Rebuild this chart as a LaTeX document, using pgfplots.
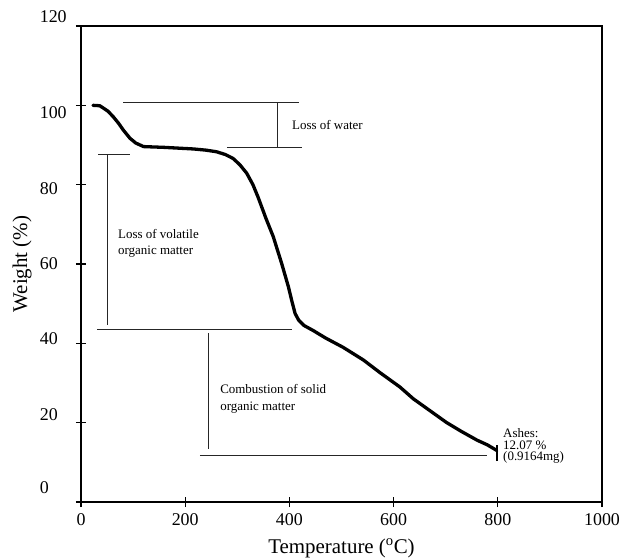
\documentclass[border=0pt]{standalone}
\usepackage{fontspec}
\setmainfont{Liberation Serif}
\usepackage{pgfplots}
\pgfplotsset{compat=1.18}
\newcommand{\rl}[2]{\raisebox{#1}[\height][\depth]{#2}}
\begin{document}
\begin{tikzpicture}
\begin{axis}[
  width=521bp, height=476bp, scale only axis,
  xmin=0, xmax=1000, ymin=0, ymax=120,
  xtick={0,200,400,600,800,1000},
  ytick={0,20,40,60,80,100,120},
  yticklabels={\rl{14bp}{0},\rl{8bp}{20},\rl{5bp}{40},\rl{0bp}{60},\rl{-4bp}{80},\rl{-7bp}{100},\rl{9bp}{120}},
  /pgf/number format/assume math mode=true,
  /pgf/number format/1000 sep={},
  tick pos=left,
  tick align=center,
  major tick length=10bp,
  axis line style={line width=1.2bp},
  every tick/.style={black, line width=1.2bp},
  ticklabel style={font=\fontsize{18}{20}\selectfont},
  xticklabel style={yshift=-3bp},
  yticklabel style={text width=27bp, align=left, inner sep=0pt, anchor=east, xshift=-9bp},
  xlabel={Temperature (\textsuperscript{o}C)},
  ylabel={Weight (\%)},
  every axis x label/.style={at={(axis description cs:0.5,-0.0966)}, anchor=center, font=\fontsize{21}{24}\selectfont},
  every axis y label/.style={at={(axis description cs:-0.113,0.5)}, rotate=90, anchor=center, font=\fontsize{21}{24}\selectfont},
  clip=false,
]
\coordinate (ll) at (rel axis cs:0,0);
\coordinate (ur) at (rel axis cs:1,1);
% TGA curve
\addplot[black, line width=3.3bp, line join=round, line cap=round] coordinates {
(23,100) (36,99.9) (43,99.3) (52,98.5) (62,97.1) (72,95.5) (81,93.8) (94,91.7)
(105,90.5) (120,89.6) (160,89.4) (216,89.0) (240,88.7) (260,88.3) (277,87.6)
(292,86.6) (305,85.0) (318,82.9) (330,80.0) (340,76.8) (355,71.5) (369,66.9)
(385,60.2) (398,54.3) (405,50.5) (411,47.5) (418,45.8) (428,44.5) (446,43.2)
(470,41.3) (503,39.0) (542,35.8) (574,32.6) (612,29.0) (638,26.0) (670,23.0)
(702,20.0) (730,17.8) (760,15.6) (780,14.4) (798,13.0)
};
\addplot[black, line width=2.5bp] coordinates {(798,10.3) (798,14.4)};
% annotation lines
\addplot[black!85, line width=0.9bp] coordinates {(81,100.8) (418,100.8)};
\addplot[black!85, line width=0.9bp] coordinates {(280,89.5) (424,89.5)};
\addplot[black!85, line width=0.9bp] coordinates {(378,100.8) (378,89.5)};
\addplot[black!85, line width=0.9bp] coordinates {(33,87.7) (94,87.7)};
\addplot[black!85, line width=0.9bp] coordinates {(50,87.7) (50,44.6)};
\addplot[black!85, line width=0.9bp] coordinates {(31,43.4) (405,43.4)};
\addplot[black!85, line width=0.9bp] coordinates {(244,42.6) (244,13.4)};
\addplot[black!85, line width=0.9bp] coordinates {(228,11.8) (779,11.8)};
% texts
\node[anchor=west, inner sep=0pt, font=\fontsize{13}{16}\selectfont] at (axis cs:405,95) {Loss of water};
\node[anchor=west, inner sep=0pt, align=left, font=\fontsize{13}{16.5}\selectfont] at (axis cs:71,65.2) {Loss of volatile\\organic matter};
\node[anchor=west, inner sep=0pt, align=left, font=\fontsize{13}{16.5}\selectfont] at (axis cs:267,26.0) {Combustion of solid\\organic matter};
\node[anchor=west, inner sep=0pt, align=left, font=\fontsize{13}{11.5}\selectfont] at (axis cs:810,14.1) {Ashes:\\12.07 \%\\(0.9164mg)};
\end{axis}
\pgfresetboundingbox
\path ([xshift=-81bp,yshift=-58bp]ll) rectangle ([xshift=21bp,yshift=26bp]ur);
\end{tikzpicture}
\end{document}
